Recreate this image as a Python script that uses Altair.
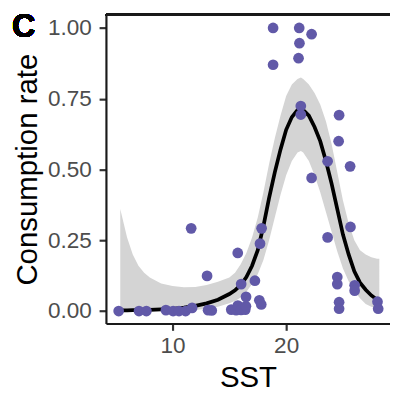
import altair as alt
import pandas as pd

# Observed points
sst = [5.26, 7.05, 7.70, 9.42, 10.05, 10.57, 11.15, 11.72, 11.64, 13.04, 13.13, 13.45,
       15.17, 15.60, 15.75, 16.03, 16.40, 16.46, 15.74, 16.04, 16.47, 17.25, 17.70, 17.84,
       17.64, 17.81,
       18.85, 21.15, 22.24, 21.17, 21.09, 18.85, 21.29, 21.29, 24.66, 24.62, 23.65, 25.63,
       22.24, 25.66, 23.65, 24.50, 24.50, 26.03, 26.03, 24.66, 24.66, 28.04, 28.10]
rate = [0.000, 0.000, 0.000, 0.003, 0.000, 0.000, 0.000, 0.011, 0.292, 0.124, 0.003, 0.002,
        0.005, 0.003, 0.019, 0.004, 0.005, 0.017, 0.205, 0.095, 0.050, 0.107, 0.238, 0.292,
        0.038, 0.023,
        1.000, 1.000, 0.978, 0.946, 0.893, 0.870, 0.724, 0.694, 0.692, 0.600, 0.529, 0.511,
        0.470, 0.297, 0.260, 0.120, 0.095, 0.091, 0.072, 0.031, 0.008, 0.033, 0.008]

# Fitted curve and confidence band
fit_x = [5.4, 6.0, 6.5, 7.0, 7.5, 8.0, 9.0, 10.0, 11.0, 12.0, 13.0, 14.0, 15.0, 15.5,
         16.0, 16.5, 17.0, 17.5, 18.0, 18.5, 19.0, 19.5, 20.0, 20.5, 21.0, 21.3, 21.5,
         22.0, 22.5, 23.0, 23.5, 24.0, 24.5, 25.0, 25.5, 26.0, 26.5, 27.0, 27.5, 28.0, 28.2]
fit_y = [0.002, 0.002, 0.003, 0.003, 0.004, 0.004, 0.006, 0.008, 0.012, 0.018, 0.027,
         0.040, 0.060, 0.073, 0.092, 0.120, 0.160, 0.215, 0.300, 0.400, 0.490, 0.570,
         0.640, 0.685, 0.710, 0.715, 0.710, 0.690, 0.650, 0.600, 0.530, 0.450, 0.360,
         0.270, 0.200, 0.140, 0.100, 0.075, 0.055, 0.040, 0.036]
fit_lo = [0.000, 0.000, 0.000, 0.000, 0.000, 0.000, 0.000, 0.001, 0.002, 0.004, 0.008,
          0.015, 0.027, 0.035, 0.048, 0.068, 0.095, 0.130, 0.180, 0.250, 0.330, 0.410,
          0.480, 0.530, 0.560, 0.565, 0.560, 0.530, 0.480, 0.420, 0.350, 0.280, 0.210,
          0.150, 0.105, 0.070, 0.045, 0.025, 0.015, 0.008, 0.006]
fit_hi = [0.360, 0.260, 0.200, 0.160, 0.135, 0.118, 0.097, 0.088, 0.084, 0.085, 0.092,
          0.103, 0.118, 0.135, 0.165, 0.205, 0.260, 0.330, 0.420, 0.520, 0.610, 0.690,
          0.760, 0.800, 0.820, 0.825, 0.820, 0.800, 0.770, 0.730, 0.670, 0.590, 0.490,
          0.390, 0.310, 0.250, 0.215, 0.200, 0.190, 0.185, 0.185]

y_ticks = [0, 0.25, 0.5, 0.75, 1.0]
x_ticks = [10, 20]

pts = pd.DataFrame({"SST": sst, "rate": rate})
fit = pd.DataFrame({"SST": fit_x, "fit": fit_y, "lo": fit_lo, "hi": fit_hi})

W, H = 290, 315
xs = alt.Scale(domain=[4.14, 29.14], nice=False, zero=False)
ys = alt.Scale(domain=[-0.044, 1.046], nice=False, zero=False)

xax = alt.Axis(values=x_ticks, title="SST", format="d")
yax = alt.Axis(values=y_ticks, title="Consumption rate", format=".2f")

band = alt.Chart(fit).mark_area(color="#d4d4d4").encode(
    x=alt.X("SST:Q", scale=xs, axis=xax),
    y=alt.Y("lo:Q", scale=ys, axis=yax),
    y2="hi:Q",
)
line = alt.Chart(fit).mark_line(color="black", strokeWidth=3.8).encode(
    x=alt.X("SST:Q", scale=xs),
    y=alt.Y("fit:Q", scale=ys),
)
points = alt.Chart(pts).mark_circle(size=120, color="#6159a8", opacity=1).encode(
    x=alt.X("SST:Q", scale=xs),
    y=alt.Y("rate:Q", scale=ys),
)
top = alt.Chart(pts).mark_rule(color="#1a1a1a", strokeWidth=2.2).encode(
    x=alt.value(0), x2=alt.value(W + 2), y=alt.value(0)
)
label = alt.Chart(pts).mark_text(
    text="C", font="Liberation Sans", fontSize=33, fontWeight="bold",
    align="center", baseline="alphabetic", color="black"
).encode(x=alt.value(-84), y=alt.value(23))

chart = alt.layer(band, line, points, top, label).properties(
    width=W, height=H,
    autosize=alt.AutoSizeParams(type="none"),
    padding={"left": 100, "top": 3, "right": 0, "bottom": 71},
).configure_view(stroke=None).configure_axis(
    grid=False,
    domainColor="#1a1a1a", domainWidth=2.2,
    tickColor="#333333", tickWidth=2.2, tickSize=7,
    labelFont="Liberation Sans", labelFontSize=23, labelColor="#4d4d4d",
    titleFont="Liberation Sans", titleFontSize=30, titleColor="black",
    titleFontWeight="normal",
).configure_axisY(labelPadding=8, titlePadding=5).configure_axisX(labelPadding=5, titlePadding=5)

chart.save("out.html", embed_options={"renderer": "svg", "actions": False})
